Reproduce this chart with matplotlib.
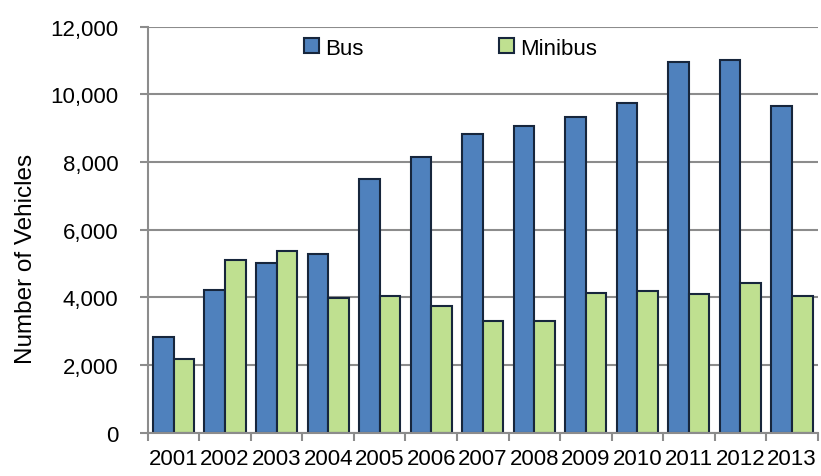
import matplotlib.pyplot as plt
import numpy as np
from matplotlib.ticker import FuncFormatter

years = ['2001', '2002', '2003', '2004', '2005', '2006', '2007',
         '2008', '2009', '2010', '2011', '2012', '2013']
bus = [2830, 4220, 5000, 5270, 7490, 8140, 8840, 9070, 9340, 9740, 10950, 11020, 9650]
minibus = [2180, 5100, 5380, 3990, 4030, 3740, 3310, 3290, 4120, 4190, 4090, 4430, 4030]

plt.rcParams['font.family'] = ['Liberation Sans', 'DejaVu Sans']

fig = plt.figure(figsize=(8.21, 4.77), dpi=100)
ax = fig.add_axes([0.180, 0.091, 0.816, 0.851])

x = np.arange(len(years))
w = 0.4
ax.bar(x - w / 2, bus, w, color='#4f81bd', edgecolor='#17263c', linewidth=1.5,
       label='Bus', zorder=3)
ax.bar(x + w / 2, minibus, w, color='#bfe090', edgecolor='#17263c', linewidth=1.5,
       label='Minibus', zorder=3)

ax.set_xlim(-0.5, len(years) - 0.5)
ax.set_ylim(0, 12000)
ax.set_yticks(range(0, 12001, 2000))
ax.yaxis.set_major_formatter(FuncFormatter(lambda v, p: f'{int(v):,}'))

# year labels centred, ticks on category boundaries
ax.set_xticks(x)
ax.set_xticklabels(years)
ax.set_xticks(np.arange(-0.5, len(years), 1), minor=True)
ax.tick_params(axis='x', which='major', length=0, pad=11, labelsize=16)
ax.tick_params(axis='x', which='minor', length=6, width=1.5, color='#8c8c8c')
ax.tick_params(axis='y', length=6, width=1.5, color='#8c8c8c', labelsize=16, pad=15)

ax.grid(axis='y', color='#8c8c8c', linewidth=1.5, zorder=0)
for s in ['top', 'right']:
    ax.spines[s].set_visible(False)
for s in ['left', 'bottom']:
    ax.spines[s].set_color('#8c8c8c')
    ax.spines[s].set_linewidth(1.5)
ax.spines['bottom'].set_zorder(4)

ax.set_ylabel('Number of Vehicles', fontsize=17.5)
ax.yaxis.set_label_coords(-0.166, 0.43)

ax.legend(loc='center', bbox_to_anchor=(0.452, 0.947), ncol=2, frameon=False,
          fontsize=16, columnspacing=6.1, handlelength=0.65, handleheight=0.65,
          handletextpad=0.3)

fig.savefig('out.png', dpi=100)
